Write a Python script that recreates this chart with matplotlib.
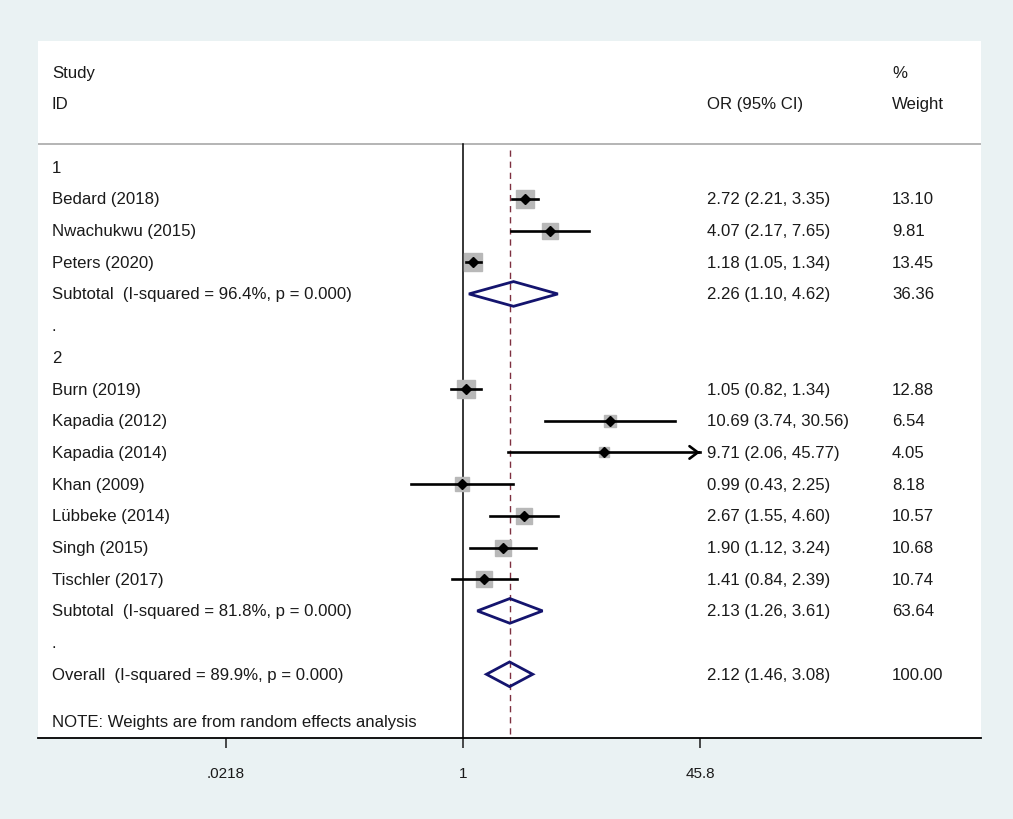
import numpy as np
import matplotlib
matplotlib.use("Agg")
import matplotlib.pyplot as plt
from matplotlib.patches import Polygon

plt.rcParams["font.family"] = ["Liberation Sans", "DejaVu Sans"]

# study level data
studies = ["Bedard (2018)", "Nwachukwu (2015)", "Peters (2020)",
           "Burn (2019)", "Kapadia (2012)", "Kapadia (2014)", "Khan (2009)",
           "Lübbeke (2014)", "Singh (2015)", "Tischler (2017)"]
groups = [1, 1, 1, 2, 2, 2, 2, 2, 2, 2]
odds = [2.72, 4.07, 1.18, 1.05, 10.69, 9.71, 0.99, 2.67, 1.90, 1.41]
lower = [2.21, 2.17, 1.05, 0.82, 3.74, 2.06, 0.43, 1.55, 1.12, 0.84]
upper = [3.35, 7.65, 1.34, 1.34, 30.56, 45.77, 2.25, 4.60, 3.24, 2.39]
weights = [13.10, 9.81, 13.45, 12.88, 6.54, 4.05, 8.18, 10.57, 10.68, 10.74]

# pooled estimates
sub_groups = [1, 2]
sub_or = [2.26, 2.13]
sub_lo = [1.10, 1.26]
sub_hi = [4.62, 3.61]
sub_wt = [36.36, 63.64]
sub_i2 = [96.4, 81.8]
overall = (2.12, 1.46, 3.08, 100.00, 89.9)

ticks = [0.0218, 1, 45.8]
tick_labels = [".0218", "1", "45.8"]

bg = "#eaf2f3"
navy = "#14146e"

fig = plt.figure(figsize=(10.13, 8.2), dpi=100, facecolor=bg)
# white plot region in figure pixels: x 38..981, y 42..739
ax = fig.add_axes([38 / 1013, 81 / 820, 943 / 1013, 697 / 820])
ax.set_facecolor("white")
ax.set_xscale("log")
px_per_ln = 237 / np.log(45.8)
ax.set_xlim(np.exp((38 - 463) / px_per_ln), np.exp((981 - 463) / px_per_ln))
ax.set_ylim(21.01, -0.98)

for s in ["top", "left", "right"]:
    ax.spines[s].set_visible(False)
ax.spines["bottom"].set_linewidth(1.3)
ax.set_yticks([])
ax.set_xticks(ticks)
ax.set_xticklabels(tick_labels)
ax.minorticks_off()
ax.tick_params(axis="x", direction="out", length=7, width=1.1,
               labelsize=11, pad=13, colors="#1a1a1a")

tx = ax.get_yaxis_transform()  # x in axes fraction, y in data
col_id, col_or, col_wt = 0.0148, 0.7094, 0.9056
fs = 12.1
tc = "#1a1a1a"


def label(x, y, s):
    ax.text(x, y, s, transform=tx, fontsize=fs, color=tc, va="center", ha="left")


# header
label(col_id, 0, "Study")
label(col_id, 1, "ID")
label(col_or, 1, "OR (95% CI)")
label(col_wt, 0, "%")
label(col_wt, 1, "Weight")
ax.axhline(2.27, color="#a8a8a8", lw=1.2)

# reference lines
ax.plot([1, 1], [2.27, 21.01], color="black", lw=1.1)
ax.plot([overall[0]] * 2, [2.45, 21.01], color="#7e3040", lw=1.0,
        dashes=(4.5, 3.5))

clip_hi = ticks[-1]
half_h = 0.39


def diamond(y, est, lo, hi):
    ax.add_patch(Polygon([(lo, y), (est, y - half_h), (hi, y), (est, y + half_h)],
                         closed=True, fill=False, edgecolor=navy, lw=2.0,
                         zorder=4))


row = 3
for g, so, sl, sh, sw, i2 in zip(sub_groups, sub_or, sub_lo, sub_hi,
                                 sub_wt, sub_i2):
    label(col_id, row, str(g))
    row += 1
    for i in range(len(studies)):
        if groups[i] != g:
            continue
        label(col_id, row, studies[i])
        label(col_or, row, f"{odds[i]:.2f} ({lower[i]:.2f}, {upper[i]:.2f})")
        label(col_wt, row, f"{weights[i]:.2f}")
        ax.plot(odds[i], row, marker="s", ms=3.5 * np.sqrt(weights[i]),
                color="#b8b8b8", mec="#b8b8b8", zorder=2)
        if upper[i] >= 0.99 * clip_hi:
            ax.plot([lower[i], clip_hi], [row, row], color="black", lw=1.9,
                    zorder=3)
            ax.annotate("", xy=(clip_hi, row), xytext=(clip_hi * 0.93, row),
                        arrowprops=dict(arrowstyle="->,head_length=0.6,head_width=0.45",
                                        color="black", lw=1.9), zorder=3)
        else:
            ax.plot([lower[i], upper[i]], [row, row], color="black", lw=1.9,
                    zorder=3)
        ax.plot(odds[i], row, marker="D", ms=5, color="black", zorder=4)
        row += 1
    label(col_id, row, f"Subtotal  (I-squared = {i2:.1f}%, p = 0.000)")
    label(col_or, row, f"{so:.2f} ({sl:.2f}, {sh:.2f})")
    label(col_wt, row, f"{sw:.2f}")
    diamond(row, so, sl, sh)
    row += 1
    label(col_id, row, ".")
    row += 1

est, lo, hi, wt, i2 = overall
label(col_id, row, f"Overall  (I-squared = {i2:.1f}%, p = 0.000)")
label(col_or, row, f"{est:.2f} ({lo:.2f}, {hi:.2f})")
label(col_wt, row, f"{wt:.2f}")
diamond(row, est, lo, hi)

label(col_id, row + 1.5, "NOTE: Weights are from random effects analysis")

fig.savefig("out.png", dpi=100, facecolor=bg)
